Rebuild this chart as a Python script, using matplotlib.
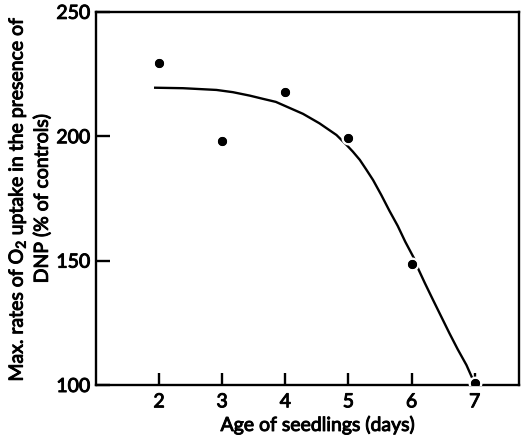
import matplotlib
matplotlib.use("Agg")
import matplotlib.pyplot as plt
import matplotlib.patheffects as pe

# measured points
age_days = [2, 3, 4, 5, 6, 7]
o2_uptake = [229.6, 198.2, 217.9, 199.4, 148.8, 101.0]

# hand-drawn trend curve
curve_x = [1.92, 2.38, 2.91, 3.17, 3.44, 3.65, 3.85, 4.02, 4.28, 4.54,
           4.81, 4.97, 5.07, 5.18, 5.28, 5.39, 5.52, 5.65, 5.78, 5.90,
           6.04, 6.10, 6.21, 6.34, 6.47, 6.60, 6.73, 6.87, 6.98]
curve_y = [219.5, 219.3, 218.6, 217.7, 216.3, 215.0, 213.8, 211.9, 209.0, 205.2,
           200.5, 196.5, 193.8, 190.5, 186.7, 182.4, 176.4, 170.0, 164.0, 157.6,
           150.9, 147.0, 141.0, 134.2, 127.5, 120.8, 114.4, 108.0, 101.7]

x_ticks = [2, 3, 4, 5, 6, 7]
y_ticks = [100, 150, 200, 250]

plt.rcParams['font.family'] = ['Lato', 'DejaVu Sans']
plt.rcParams['mathtext.fontset'] = 'custom'
plt.rcParams['mathtext.rm'] = 'Lato'
plt.rcParams['mathtext.default'] = 'rm'

# thicken the thin glyphs a little, the print face is heavier
bold = [pe.withStroke(linewidth=0.7, foreground='black')]

fig = plt.figure(figsize=(5.3, 4.38), dpi=100)
ax = fig.add_axes([0.181, 0.121, 0.798, 0.852])

ax.plot(curve_x, curve_y, color='black', lw=1.7, solid_capstyle='butt', zorder=2)
ax.plot(age_days, o2_uptake, 'o', color='black', ms=8.2,
        markeredgecolor='white', markeredgewidth=1.8, zorder=3)
# redraw centres so the dot stays black and only a thin white halo breaks the line
ax.plot(age_days, o2_uptake, 'o', color='black', ms=6.6, markeredgewidth=0, zorder=4)

ax.set_xlim(1.0, 7.70)
ax.set_ylim(100, 250)
ax.set_xticks(x_ticks)
ax.set_yticks(y_ticks)
for s in ax.spines.values():
    s.set_linewidth(1.7)
ax.tick_params(axis='x', direction='in', length=9, width=1.7, pad=6, labelsize=14)
ax.tick_params(axis='y', direction='in', length=10, width=1.7, pad=4, labelsize=14)
for lab in ax.get_xticklabels() + ax.get_yticklabels():
    lab.set_path_effects(bold)

ax.set_xlabel('Age of seedlings (days)', fontsize=14, x=0.525, labelpad=4,
              path_effects=bold)
ax.set_ylabel('Max. rates of O$_2$ uptake in the presence of\nDNP (% of controls)',
              fontsize=14, linespacing=1.35, labelpad=4, path_effects=bold)

fig.savefig('out.png', dpi=100)
